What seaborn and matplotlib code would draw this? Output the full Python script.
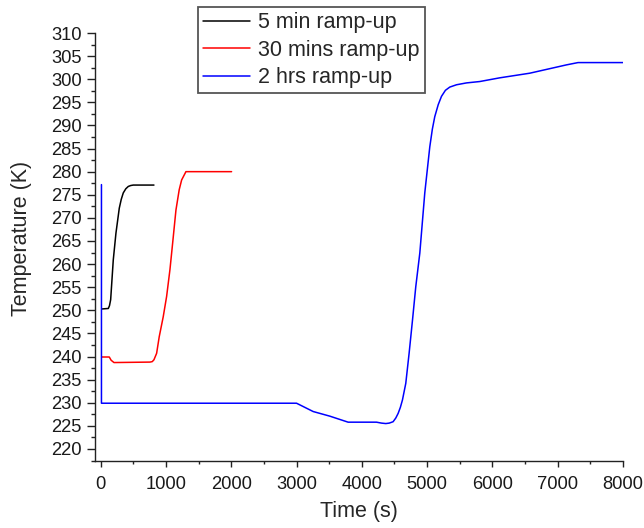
import numpy as np
import pandas as pd
import matplotlib
matplotlib.use("Agg")
import matplotlib.pyplot as plt
from matplotlib.ticker import MultipleLocator
import seaborn as sns

# Temperature histories for three ramp-up durations
t_5min = [25, 117, 135, 153, 193, 234, 285, 315, 346, 385, 423, 460, 499, 816]
T_5min = [250.3, 250.4, 251.0, 252.3, 260.9, 266.7, 272.1, 274.0, 275.4,
          276.3, 276.8, 277.0, 277.1, 277.1]

t_30min = [15, 132, 160, 204, 755, 790, 816, 857, 897, 958, 1010, 1061, 1102,
           1153, 1203, 1240, 1306, 2005]
T_30min = [239.9, 239.9, 239.2, 238.7, 238.8, 238.9, 239.3, 240.7, 244.3,
           248.6, 253.0, 258.8, 264.5, 271.7, 276.1, 278.2, 280.0, 280.0]

t_2hrs = [12, 12, 3000, 3255, 3510, 3790, 4225, 4300, 4367, 4420, 4479,
          4520, 4556, 4590, 4622, 4673, 4724, 4776, 4826, 4888, 4964, 5041,
          5080, 5117, 5170, 5220, 5280, 5347, 5450, 5602, 5806, 6112, 6571,
          7133, 7311, 8000]
T_2hrs = [277.2, 229.9, 229.9, 228.1, 227.1, 225.8, 225.8, 225.6, 225.5,
          225.6, 225.9, 226.7, 227.7, 229.0, 230.6, 234.2, 240.7, 247.9,
          255.1, 262.4, 275.4, 285.4, 289.2, 291.9, 294.5, 296.3, 297.6,
          298.3, 298.8, 299.2, 299.5, 300.3, 301.3, 303.1, 303.6, 303.6]

series_names = ["5 min ramp-up", "30 mins ramp-up", "2 hrs ramp-up"]
series_colors = ["#000000", "#ff0000", "#0000ff"]

frames = []
for name, tt, TT in zip(series_names, [t_5min, t_30min, t_2hrs],
                        [T_5min, T_30min, T_2hrs]):
    frames.append(pd.DataFrame({"time": tt, "temp": TT, "case": name}))
df = pd.concat(frames, ignore_index=True)

sns.set_style("ticks")
plt.rcParams["font.family"] = ["Liberation Sans", "DejaVu Sans"]

fig = plt.figure(figsize=(6.44, 5.28), dpi=100)
ax = fig.add_axes([0.1475, 0.1269, 0.8199, 0.8106])

sns.lineplot(data=df, x="time", y="temp", hue="case", units="case",
             palette=dict(zip(series_names, series_colors)),
             hue_order=series_names, estimator=None, sort=False,
             linewidth=1.1, ax=ax, legend=False)

ax.set_xlim(-87, 8000)
ax.set_ylim(217.4, 310)
ax.xaxis.set_major_locator(MultipleLocator(1000))
ax.xaxis.set_minor_locator(MultipleLocator(500))
ax.yaxis.set_major_locator(MultipleLocator(5))
ax.yaxis.set_minor_locator(MultipleLocator(2.5))

for side in ["top", "right"]:
    ax.spines[side].set_visible(False)
for side in ["left", "bottom"]:
    ax.spines[side].set_linewidth(1.0)
    ax.spines[side].set_color("#222222")

ax.tick_params(axis="both", which="both", direction="out", colors="#222222",
               labelcolor="#1a1a1a", labelsize=13.2, width=1.0)
ax.tick_params(axis="y", which="major", length=6)
ax.tick_params(axis="y", which="minor", length=3)
ax.tick_params(axis="x", which="major", length=4.5, pad=6)
ax.tick_params(axis="x", which="minor", length=2.5)

ax.set_xlabel("Time (s)", fontsize=15.5, labelpad=6)
ax.set_ylabel("Temperature (K)", fontsize=15.5, labelpad=8)
ax.yaxis.set_label_coords(-0.12, 0.52)

handles = [plt.Line2D([], [], color=c, linewidth=1.1) for c in series_colors]
leg = fig.legend(handles, series_names, loc="upper left",
                 bbox_to_anchor=(0.308, 0.986), fontsize=15.5,
                 frameon=True, fancybox=False, shadow=False,
                 handlelength=2.2, handletextpad=0.37, labelspacing=0.3,
                 borderpad=0.22, borderaxespad=0.0)
leg.get_frame().set_edgecolor("#555555")
leg.get_frame().set_linewidth(1.3)
leg.get_frame().set_alpha(1.0)

fig.savefig("out.png", dpi=100)
